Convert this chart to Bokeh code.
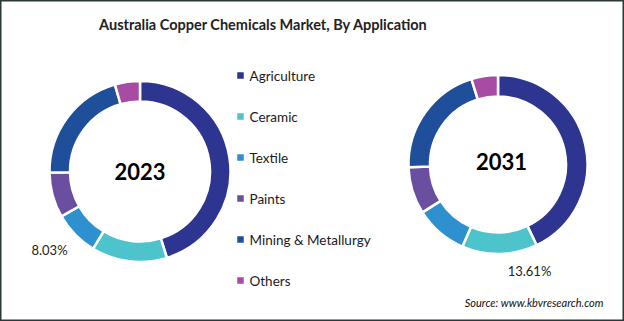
import math
import numpy as np
from bokeh.plotting import figure
from bokeh.models import Range1d, ColumnDataSource
from bokeh.core.properties import value
from bokeh.embed import file_html
from bokeh.resources import INLINE

# ---------------- data ----------------
categories = ["Agriculture", "Ceramic", "Textile", "Paints", "Mining & Metallurgy", "Others"]
colors = ["#2E3590", "#4DC3CB", "#2E90CE", "#6A4FA0", "#1F4F9B", "#A84BA5"]
share_2023 = [45.2, 13.5, 8.03, 8.1, 20.7, 4.47]
share_2031 = [42.9, 13.61, 9.5, 8.5, 20.7, 4.79]
years = ["2023", "2031"]
title = "Australia Copper Chemicals Market, By Application"
source_note = "Source: www.kbvresearch.com"

W, H = 624, 321


def Y(py):
    return H - py


p = figure(width=W, height=H, x_range=Range1d(0, W), y_range=Range1d(0, H),
           toolbar_location=None, output_backend="svg", min_border=0,
           background_fill_color="white", border_fill_color="white")
p.axis.visible = False
p.grid.visible = False
p.outline_line_color = "#2b3838"
p.outline_line_width = 2


def donut(values, cx, cy, r_in, r_out):
    v = np.array(values, dtype=float)
    frac = v / v.sum()
    cum_after = np.cumsum(frac)
    cum_before = cum_after - frac
    start = math.pi / 2 - 2 * math.pi * cum_after
    end = math.pi / 2 - 2 * math.pi * cum_before
    src = ColumnDataSource(dict(x=[cx] * len(v), y=[cy] * len(v), start=start, end=end,
                                color=colors, cat=categories))
    p.annular_wedge(x="x", y="y", inner_radius=r_in, outer_radius=r_out,
                    start_angle="start", end_angle="end", direction="anticlock",
                    fill_color="color", line_color="white", line_width=2.5, source=src)


donut(share_2023, 139.5, Y(171), 70, 90.5)
donut(share_2031, 497.5, Y(164), 68, 89.5)

# year labels
p.text(x=[139.5, 501], y=[Y(171), Y(161)], text=years, text_align="center",
       text_baseline="middle", text_font=value("Lato"), text_font_style="bold",
       text_font_size="22px", text_color="black")

# percentage labels
p.text(x=[49], y=[Y(249)], text=[f"{share_2023[2]:.2f}%"], text_align="center",
       text_baseline="middle", text_font=value("Lato"), text_font_size="13px",
       text_color="#222222")
p.text(x=[529], y=[Y(270)], text=[f"{share_2031[1]:.2f}%"], text_align="center",
       text_baseline="middle", text_font=value("Lato"), text_font_size="13px",
       text_color="#222222")

# legend
n = len(categories)
leg_y = [Y(75 + 41 * i) for i in range(n)]
p.scatter(x=[240] * n, y=leg_y, marker="square", size=6.5, fill_color=colors,
          line_color=None)
p.text(x=[249] * n, y=leg_y, text=categories, text_align="left", text_baseline="middle",
       text_font=value("Lato"), text_font_size="13.5px", text_color="#1a1a1a")

# title
p.text(x=[263], y=[Y(24)], text=[title], text_align="center", text_baseline="middle",
       text_font=value("Lato"), text_font_style="bold", text_font_size="14.5px",
       text_color="#222222")

# source
p.text(x=[603], y=[Y(302)], text=[source_note], text_align="right", text_baseline="middle",
       text_font=value("Lato"), text_font_style="italic", text_font_size="11px",
       text_color="#111111")

open("out.html", "w").write(file_html(p, INLINE))
